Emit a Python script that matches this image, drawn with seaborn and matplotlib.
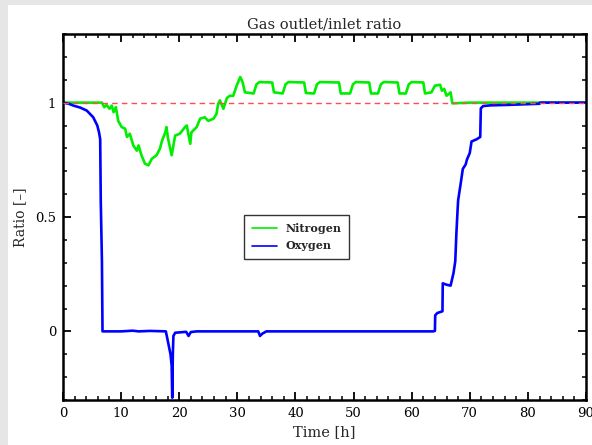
import matplotlib
matplotlib.use("Agg")
import matplotlib.pyplot as plt
import seaborn as sns
import pandas as pd
import numpy as np
from matplotlib.ticker import MultipleLocator, FuncFormatter
from matplotlib.patches import Rectangle

# ---- data ----
n2_time = [0, 2, 4, 6, 6.7, 7.1, 7.5, 8.0, 8.4, 8.7, 9.1, 9.5, 10.1, 10.7, 11.0, 11.5,
           12.1, 12.7, 13.0, 13.5, 14.1, 14.7, 15.3, 16.1, 16.7, 17.0, 17.6, 17.8, 18.1,
           18.7, 19.0, 19.3, 20.1, 21.0, 21.3, 21.9, 22.1, 23.0, 23.6, 24.4, 25.0, 25.9,
           26.4, 26.7, 27.0, 27.6, 28.2, 28.7, 29.3, 29.9, 30.5, 30.9, 31.3, 32.8, 33.3,
           33.8, 36.0, 36.3, 37.8, 38.3, 38.8, 41.5, 41.8, 43.2, 43.7, 44.2, 47.5, 47.8,
           49.4, 49.9, 50.4, 52.7, 53.0, 54.2, 54.7, 55.2, 57.6, 57.9, 59.0, 59.5, 60.0,
           62.0, 62.3, 63.4, 64.0, 64.9, 65.2, 65.6, 66.0, 66.7, 67.0, 70, 80, 90]
n2_ratio = [1.0, 1.0, 1.0, 1.0, 1.0, 0.98, 0.99, 0.973, 0.987, 0.958, 0.98, 0.92, 0.893,
            0.886, 0.85, 0.864, 0.813, 0.79, 0.813, 0.77, 0.733, 0.726, 0.755, 0.77, 0.80,
            0.83, 0.87, 0.893, 0.84, 0.77, 0.813, 0.856, 0.864, 0.893, 0.90, 0.82, 0.87,
            0.893, 0.93, 0.936, 0.92, 0.93, 0.95, 0.994, 1.01, 0.973, 1.02, 1.03, 1.03,
            1.075, 1.112, 1.09, 1.045, 1.04, 1.08, 1.09, 1.088, 1.045, 1.04, 1.08, 1.09,
            1.088, 1.042, 1.04, 1.08, 1.09, 1.088, 1.04, 1.04, 1.08, 1.09, 1.088, 1.04,
            1.04, 1.08, 1.09, 1.088, 1.04, 1.04, 1.08, 1.09, 1.088, 1.04, 1.045, 1.074,
            1.078, 1.052, 1.06, 1.03, 1.045, 0.997, 1.0, 1.0, 1.0]

o2_time = [0, 1.0, 1.8, 3.0, 4.1, 5.2, 5.9, 6.2, 6.4, 6.5, 6.7, 6.8, 10, 12, 13, 15, 17.7,
           18.1, 18.5, 18.7, 18.8, 18.9, 19.0, 19.3, 21.2, 21.6, 22.0, 23, 33.6, 33.9, 34.3,
           35, 63.7, 64.0, 64.05, 64.4, 65.3, 65.35, 66.0, 66.7, 67.2, 67.5, 67.7, 67.9,
           68.0, 68.4, 68.8, 69.3, 69.5, 70.0, 70.3, 71.2, 71.8, 71.9, 72.3, 73.5, 76.4,
           82, 82.1, 90]
o2_ratio = [1.0, 0.995, 0.987, 0.978, 0.965, 0.936, 0.90, 0.87, 0.84, 0.567, 0.306, 0.0,
            0.0, 0.003, 0.0, 0.002, 0.0, -0.05, -0.10, -0.15, -0.29, -0.10, -0.02, -0.006,
            -0.002, -0.02, -0.003, 0.0, 0.0, -0.02, -0.01, 0.0, 0.0, 0.002, 0.07, 0.08,
            0.088, 0.21, 0.204, 0.20, 0.255, 0.306, 0.43, 0.53, 0.574, 0.64, 0.71, 0.73,
            0.75, 0.78, 0.83, 0.84, 0.85, 0.975, 0.985, 0.988, 0.99, 0.995, 1.0, 1.0]

ref_time = [0, 90]
ref_ratio = [1.0, 1.0]

series_names = ["Nitrogen", "Oxygen"]
title_text = "Gas outlet/inlet ratio"
xlabel_text = "Time [h]"
ylabel_text = "Ratio [–]"

# ---- build frames ----
df = pd.concat([
    pd.DataFrame({"Time": n2_time, "Ratio": n2_ratio, "Gas": series_names[0]}),
    pd.DataFrame({"Time": o2_time, "Ratio": o2_ratio, "Gas": series_names[1]}),
], ignore_index=True)
df_ref = pd.DataFrame({"Time": ref_time, "Ratio": ref_ratio})

sns.set_theme(style="white")
plt.rcParams["font.family"] = ["DejaVu Serif"]

fig = plt.figure(figsize=(5.92, 4.45), dpi=100)
fig.patch.set_facecolor("#e6e6e6")
bg = Rectangle((8 / 592, 0), 1 - 8 / 592, (445 - 5) / 445,
               transform=fig.transFigure, facecolor="white",
               edgecolor="none", zorder=-10)
fig.patches.append(bg)
ax = fig.add_axes([63 / 592, 45 / 445, 523 / 592, 366 / 445])
ax.set_zorder(5)
ax.set_facecolor("white")

sns.lineplot(data=df, x="Time", y="Ratio", hue="Gas", ax=ax,
             palette={"Nitrogen": "#00ee00", "Oxygen": "#0000ff"},
             estimator=None, sort=False, linewidth=1.9, zorder=2)
sns.lineplot(data=df_ref, x="Time", y="Ratio", ax=ax, color="#ff4d4d",
             linewidth=1.0, linestyle=(0, (4, 3)), legend=False, zorder=3)

ax.set_xlim(0, 90)
ax.set_ylim(-0.3, 1.3)
ax.xaxis.set_major_locator(MultipleLocator(10))
ax.xaxis.set_minor_locator(MultipleLocator(2))
ax.yaxis.set_major_locator(MultipleLocator(0.5))
ax.yaxis.set_minor_locator(MultipleLocator(0.1))
ax.yaxis.set_major_formatter(FuncFormatter(lambda v, p: f"{v:g}"))
ax.tick_params(which="both", direction="in", top=True, right=True, bottom=True, left=True,
               colors="black", labelsize=9.5)
ax.tick_params(which="major", length=6, width=1.3, pad=5)
ax.tick_params(which="minor", length=3, width=1.1)
for s in ax.spines.values():
    s.set_linewidth(1.8)
    s.set_color("black")

ax.set_xlabel(xlabel_text, fontsize=10.5, labelpad=4)
ax.set_ylabel(ylabel_text, fontsize=10, labelpad=6)
ax.set_title(title_text, fontsize=10.5, pad=4)

handles, labels = ax.get_legend_handles_labels()
leg = ax.legend(handles[:2], labels[:2], loc="center", bbox_to_anchor=(0.447, 0.445),
                frameon=True, fancybox=False, prop={"weight": "bold", "size": 8},
                handlelength=2.2, borderpad=0.7, labelspacing=0.6)
leg.get_frame().set_edgecolor("black")
leg.get_frame().set_linewidth(1.0)
for line in leg.get_lines():
    line.set_linewidth(1.2)

fig.savefig("out.png", dpi=100)
